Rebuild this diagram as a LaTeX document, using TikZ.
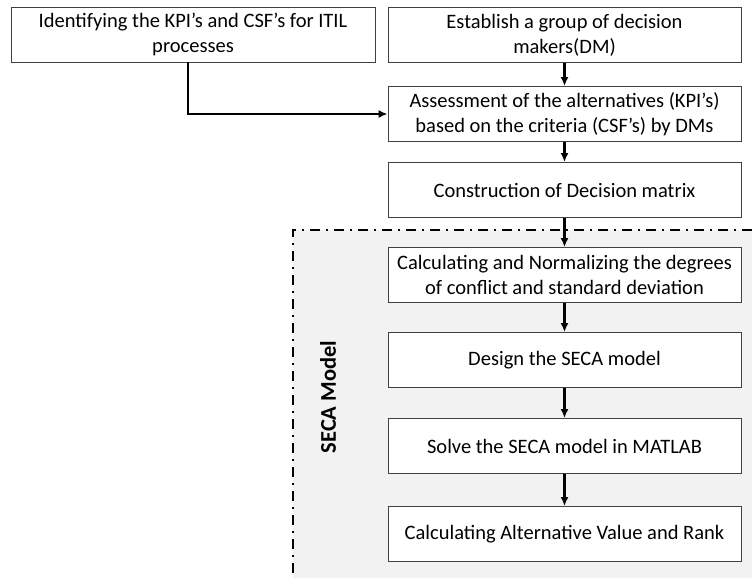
\documentclass[tikz,border=0pt]{standalone}
\usepackage{fontspec}
\setmainfont{Carlito}
\usetikzlibrary{arrows,arrows.meta,positioning}

\begin{document}
\begin{tikzpicture}[x=1pt,y=-1pt,->,>={Latex[length=9pt,width=8pt]},node distance=85pt,line width=2.2pt]
  \tikzstyle{every node}=[font=\fontsize{20.5}{25}\selectfont]
  \tikzstyle{stepbox}=[draw=black!75,line width=0.9pt,fill=white,align=center,
    minimum width=353pt,minimum height=55pt,inner sep=2pt]

  \useasboundingbox (0,0) rectangle (752,578);

  % SECA model region
  \fill[gray!10] (293,230) rectangle (752,578);
  \draw[-,line width=2.2pt,dash pattern=on 10pt off 6pt on 2pt off 6pt]
    (752,230) -- (293,230) -- (293,578);
  \node[font=\bfseries\fontsize{22.5}{26}\selectfont,rotate=90] (seca) at (328,397) {SECA Model};

  \node[stepbox,minimum width=364pt] (kpi) at (193,34.5) {Identifying the KPI’s and CSF’s for ITIL\\processes};
  \node[stepbox] (dm) at (564.5,35) {Establish a group of decision\\makers(DM)};
  \node[stepbox] (assess) [below of=dm,node distance=79pt] {Assessment of the alternatives (KPI’s)\\based on the criteria (CSF’s) by DMs};
  \node[stepbox] (matrix) [below of=assess,node distance=76pt] {Construction of Decision matrix};
  \node[stepbox] (norm)   [below of=matrix] {Calculating and Normalizing the degrees\\of conflict and standard deviation};
  \node[stepbox] (design) [below of=norm]   {Design the SECA model};
  \node[stepbox] (solve)  [below of=design,node distance=86pt] {Solve the SECA model in MATLAB};
  \node[stepbox] (rank)   [below of=solve,node distance=88pt]  {Calculating Alternative Value and Rank};

  \draw ([xshift=-5pt]kpi.south) |- (assess.west);
  \draw (dm.south) -- (assess.north);
  \draw (assess.south) -- (matrix.north);
  \draw (matrix.south) -- (norm.north);
  \draw (norm.south) -- (design.north);
  \draw (design.south) -- (solve.north);
  \draw (solve.south) -- (rank.north);
\end{tikzpicture}
\end{document}
